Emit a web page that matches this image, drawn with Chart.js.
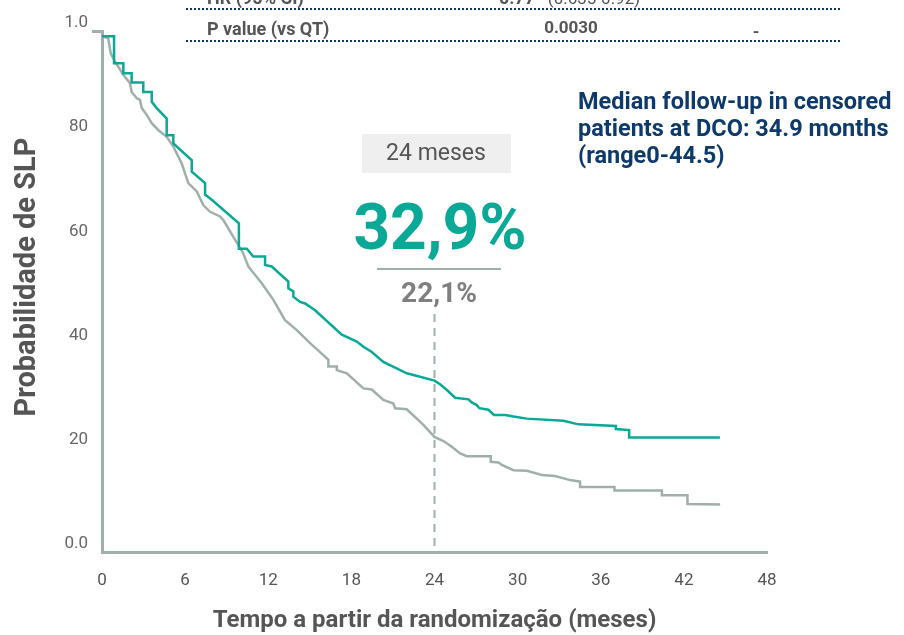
<!DOCTYPE html>
<html>
<head>
<meta charset="utf-8">
<script src="https://cdn.jsdelivr.net/npm/chart.js@4.4.1/dist/chart.umd.min.js"></script>
<style>
  html, body { margin: 0; padding: 0; background: #fff; }
  #wrap { width: 904px; height: 635px; position: relative; }
</style>
</head>
<body>
<div id="wrap"><canvas id="km"></canvas></div>
<script>
// ── DATA ──
const X_TICK_STEP = 6;
const Y_TICK_VALUES = [0, 20, 40, 60, 80, 100];
const Y_TICK_LABELS = ['0.0', '20', '40', '60', '80', '1.0'];

// teal arm (months, % progression-free)
const TEAL_MONTHS = [0, 0.87, 0.87, 1.0, 1.54, 1.54, 2.14, 2.14, 2.98, 2.98, 3.59, 3.59, 3.95, 4.67, 4.67, 5.15, 5.15,
  6.48, 6.48, 7.44, 7.44, 7.92, 9.88, 9.88, 10.45, 10.92, 11.77, 11.77, 12.25, 13.45, 13.45, 13.81, 13.81, 14.3, 14.66,
  15.38, 17.31, 18.39, 18.87, 19.47, 20.31, 22.0, 24.0, 24.4, 24.89, 25.49, 26.45, 26.69, 27.05, 27.24, 27.89, 28.3,
  29.1, 29.7, 30.66, 33.31, 34.39, 37.09, 37.09, 38.05, 38.05, 44.6];
const TEAL_VALUES = [99, 99, 93.8, 93.8, 93.8, 91.9, 91.9, 90.1, 90.1, 88.3, 88.3, 86.4, 85.2, 83.2, 80.0, 80.0, 78.4,
  75.2, 73.0, 70.8, 68.6, 67.6, 63.1, 58.2, 58.2, 56.7, 56.7, 55.1, 54.8, 51.9, 50.6, 50.0, 49.0, 48.0, 47.7,
  46.4, 41.7, 40.4, 39.4, 38.4, 36.5, 34.3, 32.9, 32.2, 31.1, 29.6, 29.3, 28.7, 28.2, 27.6, 27.3, 26.3,
  26.3, 26.0, 25.6, 25.2, 24.5, 24.2, 23.6, 23.4, 22.0, 22.0];

// gray arm
const GRAY_MONTHS = [0, 0.45, 0.63, 0.94, 1.54, 2.02, 2.14, 2.51, 2.74, 2.87, 3.23, 3.59, 4.06, 4.67, 5.15, 5.75, 6.23,
  6.84, 7.31, 7.8, 8.52, 8.76, 9.48, 10.2, 10.56, 11.53, 12.37, 13.21, 14.06, 15.02, 15.98, 16.34, 16.34, 16.95, 16.95,
  17.67, 18.87, 19.47, 20.31, 21.03, 21.16, 22.0, 23.2, 24.0, 24.64, 25.25, 25.85, 26.33, 28.06, 28.06, 28.61, 28.86,
  29.7, 30.66, 31.75, 32.71, 33.79, 34.51, 34.51, 36.99, 36.99, 40.41, 40.41, 42.26, 42.26, 44.62];
const GRAY_VALUES = [99, 98.6, 95.7, 94.1, 91.6, 90.0, 88.3, 87.1, 86.8, 85.2, 83.9, 82.3, 81.0, 79.7, 77.8, 74.6, 70.8,
  69.2, 66.6, 65.3, 64.4, 63.7, 60.5, 57.3, 54.8, 51.6, 48.4, 44.5, 42.6, 40.1, 37.8, 36.9, 35.6, 35.6, 34.9,
  34.3, 31.4, 31.2, 29.2, 28.5, 27.6, 27.4, 24.4, 22.1, 21.3, 20.2, 18.9, 18.4, 18.4, 17.3, 17.2, 16.7,
  15.7, 15.6, 14.8, 14.6, 13.8, 13.5, 12.5, 12.5, 11.8, 11.8, 10.9, 10.9, 9.2, 9.1];

const MARK_MONTH = 24;

// ── STYLE ──
const FONT = 'Roboto, "Open Sans", sans-serif';
const TEAL = '#0aa896';
const GRAY = '#9fb0aa';
const TXT  = '#555555';
const NAVY = '#0e3a6b';

const toPts = (xs, ys) => xs.map((x, i) => ({ x, y: ys[i] }));

// ── OVERLAY: dashed 24-month marker, y title, table rows, callouts ──
const overlay = {
  id: 'overlay',
  beforeDatasetsDraw(chart) {
    const { ctx, chartArea } = chart;
    const x = chart.scales.x.getPixelForValue(MARK_MONTH);
    ctx.save();
    ctx.strokeStyle = GRAY;
    ctx.lineWidth = 2;
    ctx.setLineDash([8, 6]);
    ctx.beginPath();
    ctx.moveTo(x, 314);
    ctx.lineTo(x, chartArea.bottom);
    ctx.stroke();
    ctx.restore();
  },
  afterDraw(chart) {
    const ctx = chart.ctx;
    ctx.save();

    // y axis title
    ctx.save();
    ctx.translate(28, 277);
    ctx.rotate(-Math.PI / 2);
    ctx.fillStyle = TXT;
    ctx.textAlign = 'center';
    ctx.textBaseline = 'middle';
    ctx.font = `bold 29px ${FONT}`;
    ctx.fillText('Probabilidade de SLP', 0, 0);
    ctx.restore();

    // table fragment at the top
    ctx.strokeStyle = NAVY;
    ctx.lineWidth = 2;
    ctx.setLineDash([2, 2]);
    [9, 41].forEach(y => {
      ctx.beginPath();
      ctx.moveTo(186, y);
      ctx.lineTo(842, y);
      ctx.stroke();
    });
    ctx.setLineDash([]);

    ctx.fillStyle = TXT;
    ctx.textBaseline = 'alphabetic';
    ctx.textAlign = 'left';
    ctx.font = `bold 18px ${FONT}`;
    ctx.fillText('HR (95% CI)', 207, 4);
    ctx.fillText('P value (vs QT)', 207, 35);
    ctx.textAlign = 'center';
    ctx.fillText('0.77', 517, 4);
    ctx.font = `17px ${FONT}`;
    ctx.fillText('(0.635-0.92)', 594, 4);
    ctx.font = `bold 17px ${FONT}`;
    ctx.fillText('0.0030', 571, 33);
    ctx.fillText('-', 756, 4);
    ctx.fillText('-', 756, 37);

    // median follow-up note
    ctx.fillStyle = NAVY;
    ctx.textAlign = 'left';
    ctx.textBaseline = 'middle';
    ctx.font = `bold 23.5px ${FONT}`;
    ctx.fillText('Median follow-up in censored', 578, 103);
    ctx.fillText('patients at DCO: 34.9 months', 578, 130);
    ctx.fillText('(range0-44.5)', 578, 157);

    // 24-month callout
    ctx.fillStyle = '#efefef';
    ctx.fillRect(362, 134, 149, 39);
    ctx.fillStyle = TXT;
    ctx.textAlign = 'center';
    ctx.font = `23px ${FONT}`;
    ctx.fillText('24 meses', 436, 154);

    ctx.fillStyle = TEAL;
    ctx.textBaseline = 'alphabetic';
    ctx.font = `bold 64px ${FONT}`;
    ctx.fillText('32,9%', 440, 249);

    ctx.strokeStyle = GRAY;
    ctx.lineWidth = 2;
    ctx.beginPath();
    ctx.moveTo(377, 269);
    ctx.lineTo(501, 269);
    ctx.stroke();

    ctx.fillStyle = '#7f7f7f';
    ctx.font = `bold 28px ${FONT}`;
    ctx.fillText('22,1%', 439, 302);

    ctx.restore();
  }
};

new Chart(document.getElementById('km'), {
  type: 'line',
  data: {
    datasets: [
      {
        label: 'Teal arm',
        data: toPts(TEAL_MONTHS, TEAL_VALUES),
        borderColor: TEAL,
        borderWidth: 2.5,
        pointRadius: 0,
        tension: 0,
        fill: false,
        order: 0,
      },
      {
        label: 'Gray arm',
        data: toPts(GRAY_MONTHS, GRAY_VALUES),
        borderColor: GRAY,
        borderWidth: 2.5,
        pointRadius: 0,
        tension: 0,
        fill: false,
        order: 1,
      }
    ]
  },
  options: {
    responsive: true,
    maintainAspectRatio: false,
    animation: false,
    layout: { padding: { top: 31, right: 137, left: 0, bottom: 0 } },
    plugins: {
      legend: { display: false },
      tooltip: { enabled: false }
    },
    scales: {
      x: {
        type: 'linear',
        min: 0,
        max: 48,
        afterFit: s => { s.height = 83; },
        border: { color: GRAY, width: 3 },
        grid: { drawOnChartArea: false, drawTicks: false },
        ticks: {
          stepSize: X_TICK_STEP,
          color: TXT,
          padding: 19,
          font: { family: FONT, size: 17 }
        },
        title: {
          display: true,
          text: 'Tempo a partir da randomização (meses)',
          color: TXT,
          font: { family: FONT, size: 24, weight: 'bold' },
          padding: { top: 0, bottom: 0 }
        }
      },
      y: {
        min: 0,
        max: 100,
        afterFit: s => { s.width = 102; },
        afterBuildTicks: s => { s.ticks = Y_TICK_VALUES.map(v => ({ value: v })); },
        border: { color: GRAY, width: 3 },
        grid: {
          drawOnChartArea: false,
          drawTicks: true,
          tickLength: 10,
          lineWidth: 3,
          tickColor: c => (c.tick && c.tick.value === 100) ? GRAY : 'rgba(0,0,0,0)'
        },
        ticks: {
          color: '#666666',
          padding: 4,
          labelOffset: -8,
          font: { family: FONT, size: 17 },
          callback: v => Y_TICK_LABELS[Y_TICK_VALUES.indexOf(v)]
        },
        title: { display: false }
      }
    }
  },
  plugins: [overlay]
});
</script>
</body>
</html>
